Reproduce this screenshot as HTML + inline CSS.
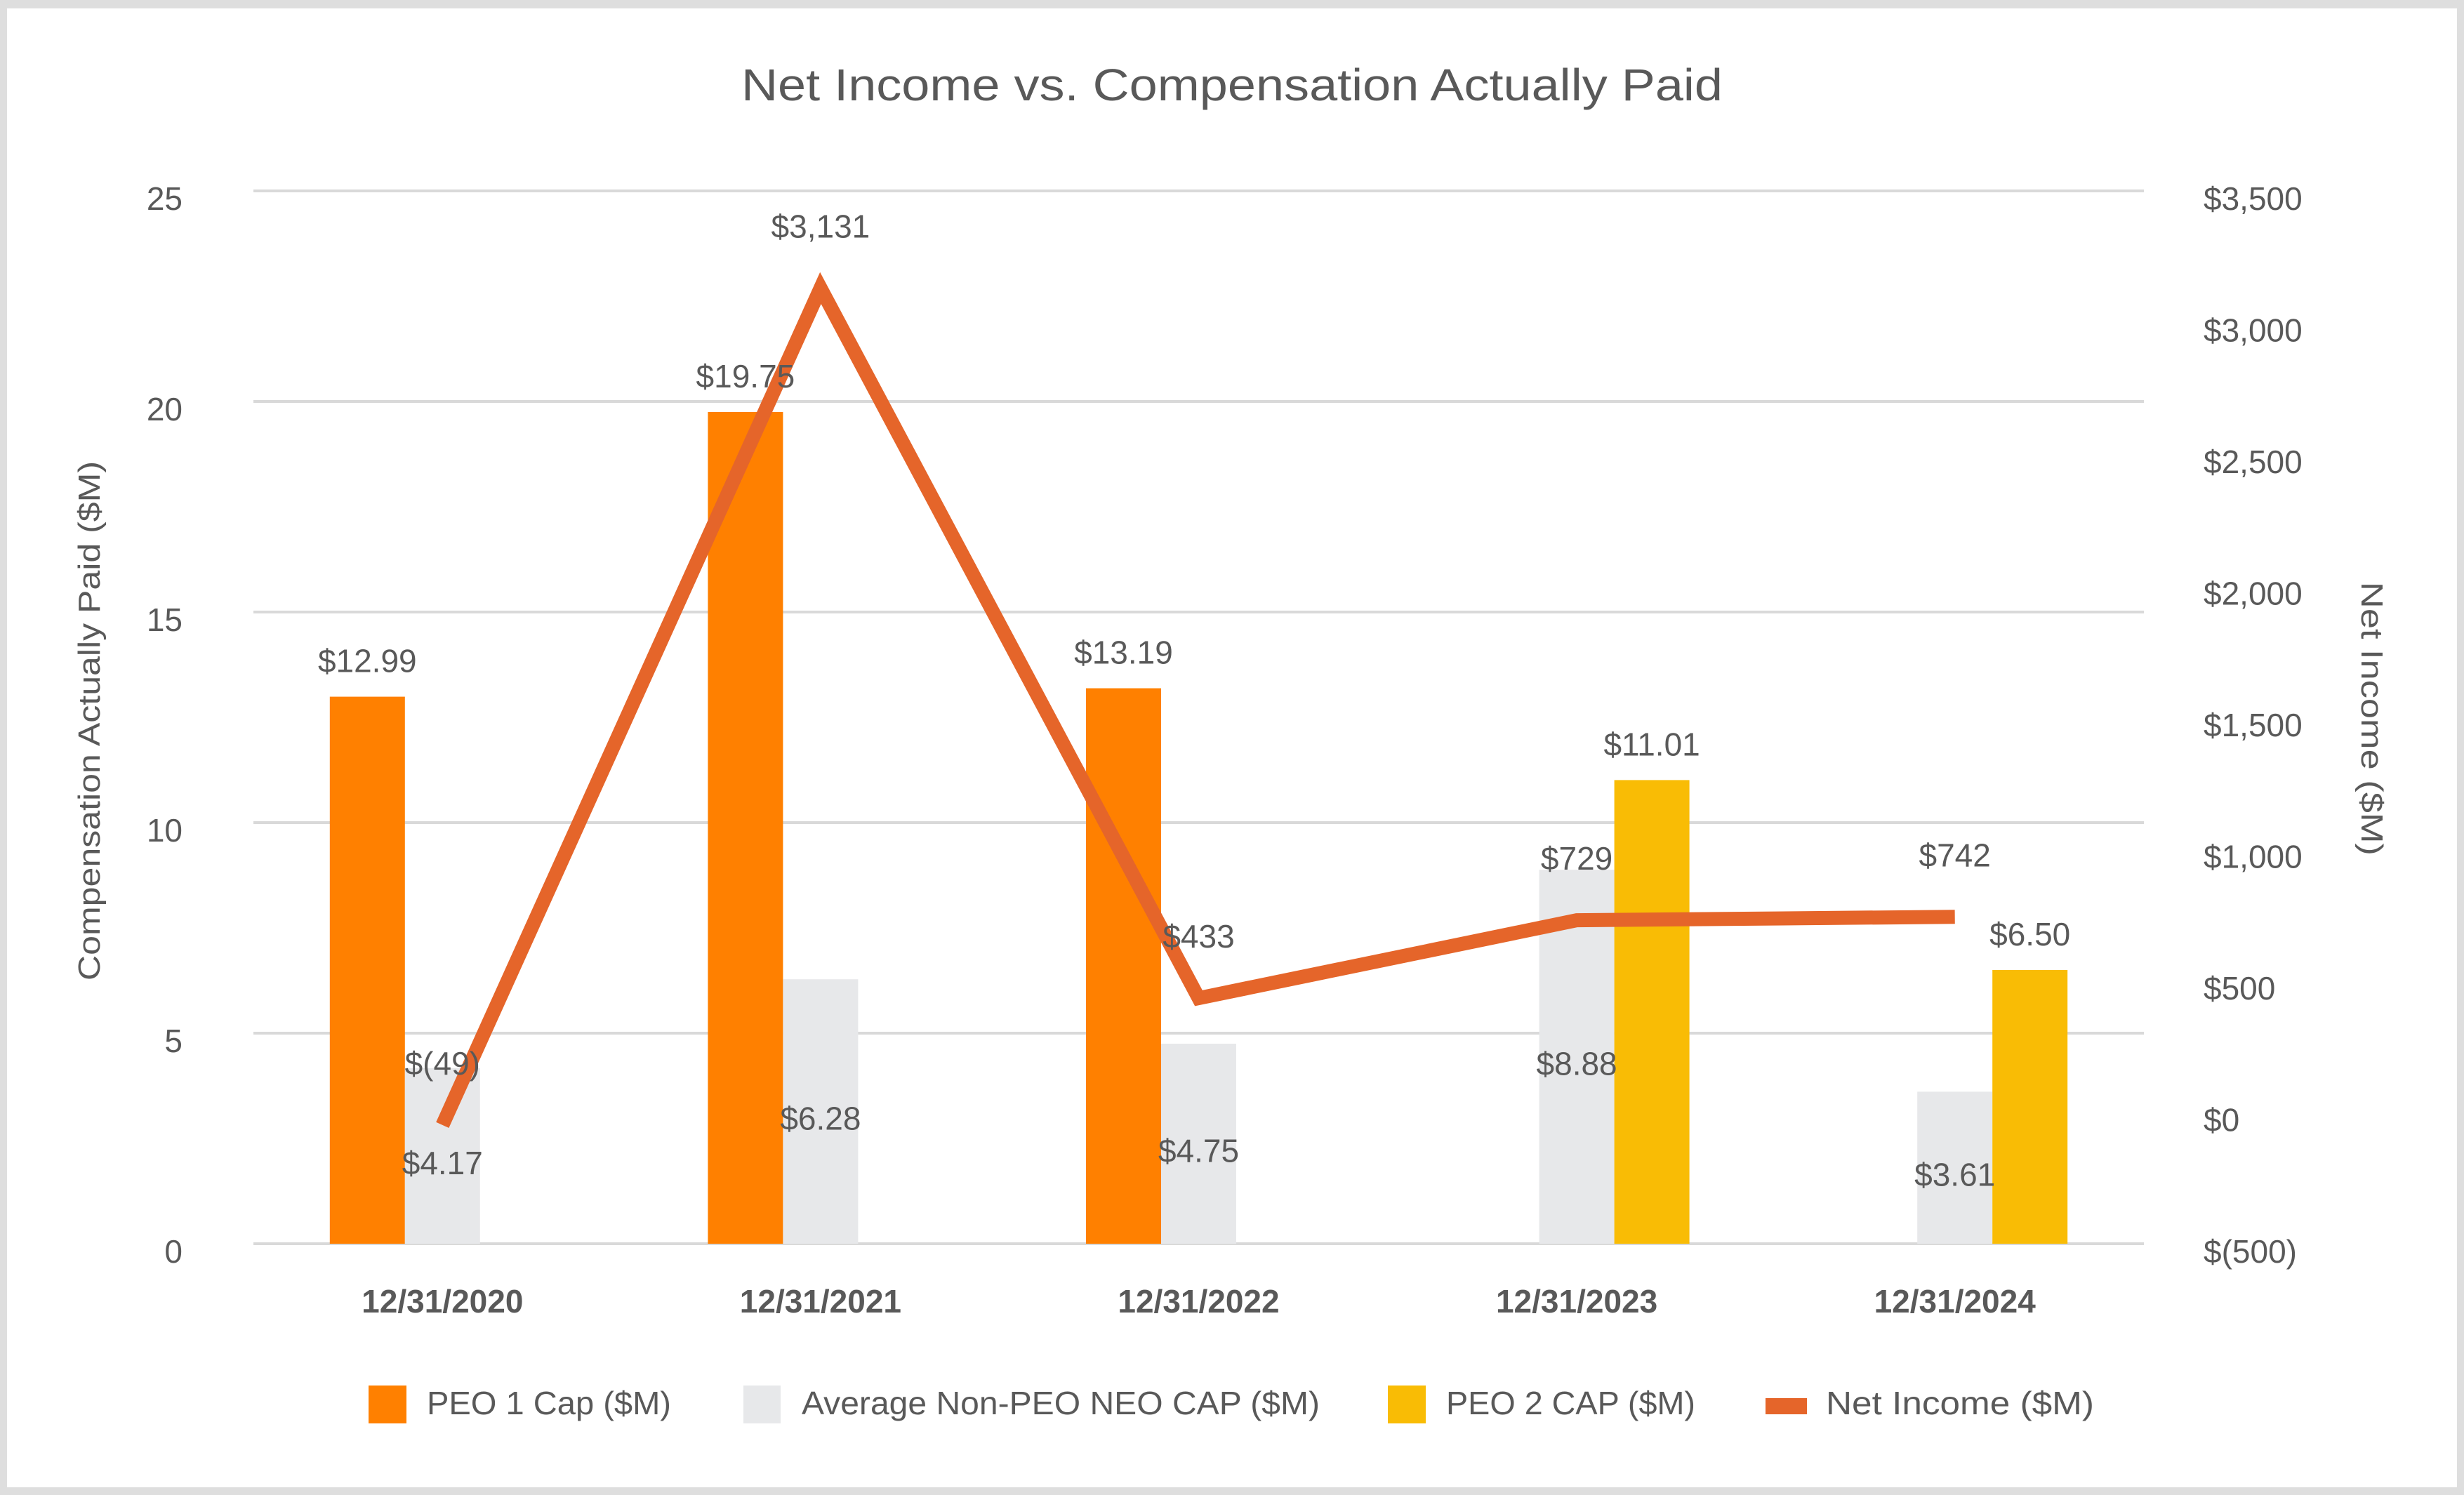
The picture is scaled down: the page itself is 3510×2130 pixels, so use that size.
<!DOCTYPE html>
<html><head><meta charset="utf-8"><style>
html,body{margin:0;padding:0;background:#d9d9d9;}
svg{display:block;font-family:"Liberation Sans",sans-serif;}
</style></head><body>
<svg id="chart" width="3510" height="2130" viewBox="0 0 3510 2130" xmlns="http://www.w3.org/2000/svg">
<rect x="0" y="0" width="3510" height="2130" fill="#dedede"/>
<rect x="10" y="12" width="3490" height="2107" fill="#ffffff"/>
<text x="1755" y="143" text-anchor="middle" font-size="64" fill="#595959" textLength="1398" lengthAdjust="spacingAndGlyphs">Net Income vs. Compensation Actually Paid</text>
<g id="grid"></g>
<g id="bars"></g>
<g id="line"></g>
<g id="labels"></g>
<g id="axes"></g>
<text transform="translate(142,1027) rotate(-90)" text-anchor="middle" font-size="44" fill="#595959" textLength="740" lengthAdjust="spacingAndGlyphs">Compensation Actually Paid ($M)</text>
<text transform="translate(3364,1024) rotate(90)" text-anchor="middle" font-size="44" fill="#595959" textLength="390" lengthAdjust="spacingAndGlyphs">Net Income ($M)</text>
<g>
<g><rect x="525" y="1974" width="54" height="54" fill="#ff8000"/><text x="608" y="2015" font-size="46" fill="#595959" textLength="348" lengthAdjust="spacingAndGlyphs">PEO 1 Cap ($M)</text></g>
<g><rect x="1059" y="1974" width="53" height="54" fill="#e7e8ea"/><text x="1142" y="2015" font-size="46" fill="#595959" textLength="738" lengthAdjust="spacingAndGlyphs">Average Non-PEO NEO CAP ($M)</text></g>
<g><rect x="1977" y="1974" width="54" height="54" fill="#f9bc05"/><text x="2060" y="2015" font-size="46" fill="#595959" textLength="355" lengthAdjust="spacingAndGlyphs">PEO 2 CAP ($M)</text></g>
<g><rect x="2515" y="1992" width="59" height="23" fill="#e5652a"/><text x="2601" y="2015" font-size="46" fill="#595959" textLength="382" lengthAdjust="spacingAndGlyphs">Net Income ($M)</text></g>
</g>
</svg>
<script>
const categories = ["12/31/2020","12/31/2021","12/31/2022","12/31/2023","12/31/2024"];
const peo1 = [12.99, 19.75, 13.19, null, null];
const nonPeo = [4.17, 6.28, 4.75, 8.88, 3.61];
const peo2 = [null, null, null, 11.01, 6.50];
const netIncome = [-49, 3131, 433, 729, 742];
const leftTicks = [0, 5, 10, 15, 20, 25];
const rightTicks = [-500, 0, 500, 1000, 1500, 2000, 2500, 3000, 3500];
const rightTickLabels = ["$(500)","$0","$500","$1,000","$1,500","$2,000","$2,500","$3,000","$3,500"];
const barLabels1 = ["$12.99","$19.75","$13.19",null,null];
const barLabelsNon = ["$4.17","$6.28","$4.75","$8.88","$3.61"];
const barLabels2 = [null,null,null,"$11.01","$6.50"];
const lineLabels = ["$(49)","$3,131","$433","$729","$742"];

const NS="http://www.w3.org/2000/svg";
const PL=361, PR=3054, PT=272, PB=1772;
const band=(PR-PL)/categories.length, bw=107;
function xc(i){return PL+band*(i+0.5);}
function yL(v){return PB-(v/25)*(PB-PT);}
function yR(v){return PB-((v+500)/4000)*(PB-PT);}
function mk(tag,attrs,parent){const e=document.createElementNS(NS,tag);for(const k in attrs)e.setAttribute(k,attrs[k]);parent.appendChild(e);return e;}
const grid=document.getElementById('grid'), bars=document.getElementById('bars'), line=document.getElementById('line'), labels=document.getElementById('labels'), axes=document.getElementById('axes');
const TXT="#595959";
leftTicks.forEach(t=>{
  const l=mk('line',{x1:PL,x2:PR,y1:yL(t),y2:yL(t),stroke:'#d9d9d9','stroke-width':4},grid);
  
  
  const tx=mk('text',{x:260,y:yL(t)+27,'text-anchor':'end','font-size':46,fill:TXT},axes);
  tx.textContent=String(t);
  
  
});
rightTicks.forEach((t,i)=>{
  const tx=mk('text',{x:3139,y:yR(t)+27,'font-size':46,fill:TXT},axes);
  tx.textContent=rightTickLabels[i];
  
  
});
categories.forEach((c,i)=>{
  const tx=mk('text',{x:xc(i),y:1870,'text-anchor':'middle','font-size':46,'font-weight':'bold',fill:TXT},axes);
  tx.textContent=c;
  
  
});
const series=[[peo1,'#ff8000',-1,'bar-peo1'],[nonPeo,'#e7e8ea',0,'bar-non-peo'],[peo2,'#f9bc05',1,'bar-peo2']];
series.forEach(([arr,col,off,name])=>{
  arr.forEach((v,i)=>{
    if(v==null)return;
    const x=xc(i)+off*bw-bw/2;
    const r=mk('rect',{x:x,y:yL(v),width:bw,height:PB-yL(v),fill:col},bars);
    
    
  });
});
function lab(x,y,t,name){const tx=mk('text',{x:x,y:y+16,'text-anchor':'middle','font-size':46,fill:TXT},labels);tx.textContent=t;
  
  }
peo1.forEach((v,i)=>{if(v!=null)lab(xc(i)-bw,yL(v)-51,barLabels1[i],'label-peo1');});
peo2.forEach((v,i)=>{if(v!=null)lab(xc(i)+bw,yL(v)-51,barLabels2[i],'label-peo2');});
nonPeo.forEach((v,i)=>{if(v!=null)lab(xc(i),(yL(v)+PB)/2+10,barLabelsNon[i],'label-non-peo');});
const pts=netIncome.map((v,i)=>xc(i)+','+yR(v)).join(' ');
const pl=mk('polyline',{points:pts,fill:'none',stroke:'#e5652a','stroke-width':20,'stroke-linejoin':'miter'},line);


netIncome.forEach((v,i)=>lab(xc(i),yR(v)-88,lineLabels[i],'label-net-income'));
</script>
</body></html>
